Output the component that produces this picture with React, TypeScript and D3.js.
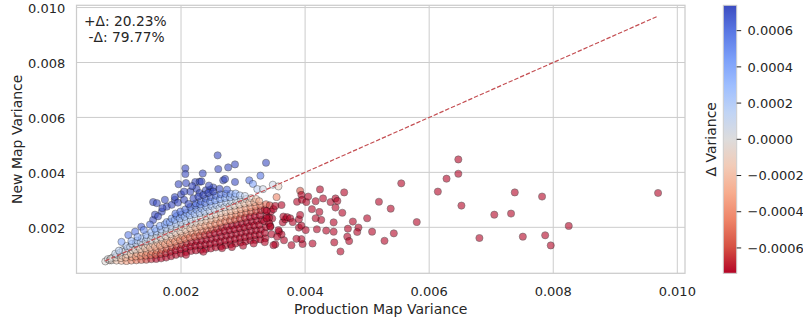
import React from 'react';
import * as d3 from 'd3';

const WIDTH = 803;
const HEIGHT = 322;

// Axis ticks
const xTicks = [0.002, 0.004, 0.006, 0.008, 0.01];
const yTicks = [0.002, 0.004, 0.006, 0.008, 0.01];
const colorTicks = [-0.0006, -0.0004, -0.0002, 0, 0.0002, 0.0004, 0.0006];

// Colour normalisation for Δ = new − production
const deltaLimit = 0.00074;
// coolwarm ramp, blue end first (positive Δ drawn blue)
const coolwarm = ['#3b4cc0', '#5a78e4', '#7b9ff9', '#9ebeff', '#c0d4f5', '#dddcdc', '#f2cbb7', '#f7ac8e', '#ee8468', '#d65244', '#b40426'];

// Share of maps whose variance went up / down
const positiveShare = '20.23%';
const negativeShare = '79.77%';

// [production variance, new variance] — dense band along the diagonal
const clusterPoints: [number, number][] = [
  [0.00078,0.00076],[0.00082,0.00084],[0.00085,0.00080],
  [0.00088,0.00080],[0.00090,0.00090],[0.00087,0.00086],
  [0.00096,0.00079],[0.00095,0.00090],[0.00097,0.00100],[0.00094,0.00104],
  [0.00104,0.00078],[0.00103,0.00088],[0.00105,0.00097],[0.00102,0.00108],[0.00106,0.00117],
  [0.00112,0.00077],[0.00111,0.00090],[0.00113,0.00101],[0.00110,0.00113],[0.00114,0.00124],[0.00112,0.00132],
  [0.00120,0.00079],[0.00121,0.00092],[0.00119,0.00104],[0.00122,0.00116],[0.00118,0.00128],[0.00121,0.00140],
  [0.00128,0.00080],[0.00127,0.00094],[0.00129,0.00106],[0.00126,0.00119],[0.00130,0.00131],[0.00127,0.00143],[0.00129,0.00152],
  [0.00136,0.00081],[0.00135,0.00096],[0.00137,0.00108],[0.00134,0.00121],[0.00138,0.00134],[0.00135,0.00146],[0.00137,0.00160],
  [0.00144,0.00082],[0.00143,0.00097],[0.00145,0.00110],[0.00142,0.00124],[0.00146,0.00137],[0.00143,0.00150],[0.00145,0.00162],[0.00144,0.00172],
  [0.00152,0.00084],[0.00151,0.00099],[0.00153,0.00112],[0.00150,0.00126],[0.00154,0.00140],[0.00151,0.00154],[0.00153,0.00168],[0.00152,0.00182],
  [0.00160,0.00085],[0.00159,0.00100],[0.00161,0.00115],[0.00158,0.00129],[0.00162,0.00144],[0.00159,0.00158],[0.00161,0.00172],[0.00160,0.00186],[0.00158,0.00195],
  [0.00168,0.00087],[0.00167,0.00103],[0.00169,0.00118],[0.00166,0.00133],[0.00170,0.00148],[0.00167,0.00163],[0.00169,0.00178],[0.00168,0.00192],[0.00166,0.00205],
  [0.00176,0.00090],[0.00175,0.00106],[0.00177,0.00122],[0.00174,0.00138],[0.00178,0.00153],[0.00175,0.00168],[0.00177,0.00183],[0.00176,0.00198],[0.00174,0.00211],[0.00177,0.00219],
  [0.00184,0.00095],[0.00183,0.00111],[0.00185,0.00127],[0.00182,0.00143],[0.00186,0.00159],[0.00183,0.00175],[0.00185,0.00190],[0.00184,0.00205],[0.00182,0.00219],[0.00185,0.00232],
  [0.00192,0.00100],[0.00191,0.00116],[0.00193,0.00132],[0.00190,0.00148],[0.00194,0.00164],[0.00191,0.00180],[0.00193,0.00196],[0.00192,0.00212],[0.00190,0.00227],[0.00193,0.00241],[0.00191,0.00250],
  [0.00200,0.00104],[0.00199,0.00120],[0.00201,0.00137],[0.00198,0.00153],[0.00202,0.00169],[0.00199,0.00185],[0.00201,0.00201],[0.00200,0.00217],[0.00198,0.00232],[0.00201,0.00246],[0.00199,0.00257],
  [0.00208,0.00110],[0.00207,0.00126],[0.00209,0.00142],[0.00206,0.00158],[0.00210,0.00175],[0.00207,0.00191],[0.00209,0.00207],[0.00208,0.00223],[0.00206,0.00238],[0.00209,0.00252],[0.00207,0.00265],
  [0.00216,0.00114],[0.00215,0.00130],[0.00217,0.00146],[0.00214,0.00163],[0.00218,0.00180],[0.00215,0.00196],[0.00217,0.00212],[0.00216,0.00228],[0.00214,0.00244],[0.00217,0.00259],[0.00215,0.00274],
  [0.00224,0.00116],[0.00223,0.00133],[0.00225,0.00150],[0.00222,0.00166],[0.00226,0.00183],[0.00223,0.00199],[0.00225,0.00216],[0.00224,0.00232],[0.00222,0.00248],[0.00225,0.00264],[0.00223,0.00279],[0.00224,0.00287],
  [0.00232,0.00118],[0.00231,0.00135],[0.00233,0.00152],[0.00230,0.00169],[0.00234,0.00186],[0.00231,0.00203],[0.00233,0.00219],[0.00232,0.00236],[0.00230,0.00252],[0.00233,0.00268],[0.00231,0.00283],[0.00232,0.00295],
  [0.00240,0.00121],[0.00239,0.00138],[0.00241,0.00155],[0.00238,0.00172],[0.00242,0.00189],[0.00239,0.00206],[0.00241,0.00223],[0.00240,0.00240],[0.00238,0.00257],[0.00241,0.00273],[0.00239,0.00289],[0.00240,0.00304],
  [0.00248,0.00123],[0.00247,0.00140],[0.00249,0.00158],[0.00246,0.00175],[0.00250,0.00192],[0.00247,0.00209],[0.00249,0.00226],[0.00248,0.00243],[0.00246,0.00260],[0.00249,0.00277],[0.00247,0.00294],[0.00248,0.00310],
  [0.00256,0.00127],[0.00255,0.00144],[0.00257,0.00161],[0.00254,0.00179],[0.00258,0.00196],[0.00255,0.00213],[0.00257,0.00230],[0.00256,0.00247],[0.00254,0.00264],[0.00257,0.00281],[0.00255,0.00298],[0.00256,0.00315],
  [0.00264,0.00131],[0.00263,0.00148],[0.00265,0.00166],[0.00262,0.00183],[0.00266,0.00200],[0.00263,0.00217],[0.00265,0.00235],[0.00264,0.00252],[0.00262,0.00269],[0.00265,0.00286],[0.00263,0.00303],[0.00264,0.00320],
  [0.00272,0.00135],[0.00271,0.00152],[0.00273,0.00170],[0.00270,0.00187],[0.00274,0.00204],[0.00271,0.00222],[0.00273,0.00239],[0.00272,0.00256],[0.00270,0.00273],[0.00273,0.00290],[0.00271,0.00307],[0.00272,0.00322],
  [0.00280,0.00138],[0.00279,0.00155],[0.00281,0.00173],[0.00278,0.00190],[0.00282,0.00207],[0.00279,0.00225],[0.00281,0.00242],[0.00280,0.00259],[0.00278,0.00276],[0.00281,0.00293],[0.00279,0.00309],[0.00280,0.00322],
  [0.00288,0.00141],[0.00287,0.00158],[0.00289,0.00176],[0.00286,0.00193],[0.00290,0.00211],[0.00287,0.00228],[0.00289,0.00245],[0.00288,0.00262],[0.00286,0.00279],[0.00289,0.00296],[0.00287,0.00312],[0.00288,0.00323],
  [0.00296,0.00145],[0.00295,0.00162],[0.00297,0.00180],[0.00294,0.00197],[0.00298,0.00214],[0.00295,0.00232],[0.00297,0.00249],[0.00296,0.00266],[0.00294,0.00283],[0.00297,0.00300],[0.00295,0.00316],
  [0.00304,0.00148],[0.00303,0.00165],[0.00305,0.00183],[0.00302,0.00200],[0.00306,0.00218],[0.00303,0.00235],[0.00305,0.00252],[0.00304,0.00270],[0.00302,0.00287],[0.00305,0.00303],[0.00303,0.00314],
  [0.00312,0.00152],[0.00311,0.00169],[0.00313,0.00187],[0.00310,0.00204],[0.00314,0.00221],[0.00311,0.00238],[0.00313,0.00256],[0.00312,0.00273],[0.00310,0.00290],[0.00313,0.00306],
  [0.00320,0.00154],[0.00319,0.00172],[0.00321,0.00189],[0.00318,0.00207],[0.00322,0.00224],[0.00319,0.00241],[0.00321,0.00259],[0.00320,0.00276],[0.00318,0.00292],[0.00321,0.00303],
  [0.00328,0.00156],[0.00327,0.00174],[0.00329,0.00192],[0.00326,0.00209],[0.00330,0.00227],[0.00327,0.00244],[0.00329,0.00262],[0.00328,0.00279],[0.00326,0.00295],
  [0.00336,0.00160],[0.00335,0.00180],[0.00337,0.00201],[0.00334,0.00222],[0.00338,0.00243],[0.00335,0.00264],[0.00337,0.00284],
  [0.00346,0.00175],[0.00344,0.00205],[0.00347,0.00232],[0.00345,0.00258],[0.00343,0.00280],
];

// Maps whose variance rose above the band
const upperPoints: [number, number][] = [
  [0.00104,0.00147],[0.00115,0.00172],[0.00126,0.00184],[0.00136,0.00202],[0.00155,0.00227],[0.00158,0.00246],
  [0.00169,0.00257],[0.00177,0.00275],[0.00185,0.00282],[0.00155,0.00292],[0.00161,0.00288],[0.00174,0.00300],
  [0.00190,0.00300],[0.00196,0.00357],[0.00208,0.00361],[0.00223,0.00365],[0.00230,0.00366],[0.00233,0.00367],
  [0.00247,0.00337],[0.00268,0.00371],[0.00271,0.00376],[0.00274,0.00337],[0.00287,0.00365],[0.00310,0.00371],
  [0.00316,0.00358],[0.00207,0.00415],[0.00207,0.00394],[0.00235,0.00396],[0.00259,0.00462],[0.00260,0.00412],
  [0.00276,0.00418],[0.00287,0.00429],[0.00337,0.00435],[0.00328,0.00388],[0.00323,0.00339],[0.00332,0.00339],
  [0.00348,0.00355],[0.00357,0.00349],[0.00200,0.00320],[0.00215,0.00330],[0.00225,0.00340],[0.00240,0.00335],
  [0.00252,0.00345],[0.00262,0.00340],[0.00218,0.00350],[0.00245,0.00352],[0.00205,0.00330],[0.00230,0.00325],
  [0.00190,0.00310],[0.00170,0.00270],[0.00163,0.00240],[0.00150,0.00210],[0.00140,0.00190],[0.00130,0.00165],
  [0.00120,0.00150],[0.00100,0.00115],[0.00195,0.00290],[0.00205,0.00300],[0.00212,0.00285],[0.00220,0.00305],
  [0.00228,0.00312],[0.00236,0.00318],[0.00244,0.00325],[0.00252,0.00330],
];

// Maps whose variance fell: the red body right of the band
const lowerPoints: [number, number][] = [
  [0.00354,0.00310],[0.00338,0.00260],[0.00349,0.00266],[0.00352,0.00278],[0.00362,0.00281],[0.00342,0.00235],
  [0.00342,0.00215],[0.00364,0.00218],[0.00368,0.00229],[0.00365,0.00239],[0.00371,0.00237],[0.00358,0.00184],
  [0.00362,0.00174],[0.00366,0.00153],[0.00352,0.00138],[0.00335,0.00146],[0.00344,0.00202],[0.00355,0.00166],
  [0.00357,0.00190],[0.00349,0.00135],[0.00338,0.00233],[0.00376,0.00233],[0.00380,0.00219],[0.00390,0.00229],
  [0.00390,0.00199],[0.00394,0.00206],[0.00387,0.00293],[0.00392,0.00333],[0.00394,0.00318],[0.00395,0.00300],
  [0.00402,0.00292],[0.00405,0.00312],[0.00417,0.00295],[0.00424,0.00338],[0.00429,0.00305],[0.00441,0.00292],
  [0.00449,0.00305],[0.00452,0.00296],[0.00463,0.00327],[0.00449,0.00272],[0.00460,0.00253],[0.00411,0.00266],
  [0.00423,0.00256],[0.00426,0.00227],[0.00446,0.00218],[0.00477,0.00221],[0.00469,0.00195],[0.00486,0.00199],
  [0.00484,0.00183],[0.00434,0.00188],[0.00419,0.00193],[0.00401,0.00190],[0.00468,0.00166],[0.00471,0.00150],
  [0.00447,0.00145],[0.00457,0.00112],[0.00412,0.00141],[0.00396,0.00139],[0.00394,0.00157],[0.00386,0.00158],
  [0.00378,0.00135],[0.00392,0.00245],[0.00417,0.00233],[0.00446,0.00184],
  [0.00500,0.00233],[0.00508,0.00184],[0.00519,0.00293],[0.00538,0.00268],[0.00555,0.00360],[0.00580,0.00219],
  [0.00543,0.00178],[0.00528,0.00151],
  [0.00208,0.00100],[0.00236,0.00111],[0.00282,0.00128],[0.00317,0.00141],[0.00300,0.00133],[0.00266,0.00124],
];

// Isolated maps with large production variance
const tailPoints: [number, number][] = [
  [0.00647,0.00447],[0.00647,0.00395],[0.00628,0.00377],[0.00614,0.00330],[0.00652,0.00279],
  [0.00681,0.00161],[0.00705,0.00246],[0.00732,0.00250],[0.00738,0.00327],[0.00782,0.00312],
  [0.00751,0.00166],[0.00787,0.00171],[0.00796,0.00134],[0.00825,0.00205],[0.00969,0.00325],
];

const FONT = 'DejaVu Sans, sans-serif';
const TEXT = '#262626';
const GRID = '#cccccc';

export default function App() {
  const plot = { left: 76.5, right: 685, top: 5.3, bottom: 273.3 };
  const bar = { left: 723.3, right: 736.7, top: 5.3, bottom: 273.3 };

  const x = d3.scaleLinear().domain([0.000315, 0.010124]).range([plot.left, plot.right]);
  const y = d3.scaleLinear().domain([0.000326, 0.010082]).range([plot.bottom, plot.top]);
  const cy = d3.scaleLinear().domain([-deltaLimit, deltaLimit]).range([bar.bottom, bar.top]);

  const ramp = d3.piecewise(d3.interpolateRgb, coolwarm);
  const colorOf = (delta: number) =>
    ramp(Math.max(0, Math.min(1, (deltaLimit - delta) / (2 * deltaLimit))));

  const points = [...clusterPoints, ...upperPoints, ...lowerPoints, ...tailPoints];
  const prodExtent = d3.extent(points, (d) => d[0]) as [number, number];

  const fmtAxis = d3.format('.3f');
  const fmtBar = d3.format('.4f');

  return (
    <svg
      width={WIDTH}
      height={HEIGHT}
      style={{ position: 'absolute', left: 0, top: 0, background: '#fff' }}
      fontFamily={FONT}
    >
      <defs>
        <linearGradient id="cbar" x1="0" y1="0" x2="0" y2="1">
          {coolwarm.map((c, i) => (
            <stop key={i} offset={i / (coolwarm.length - 1)} stopColor={c} />
          ))}
        </linearGradient>
        <clipPath id="plotClip">
          <rect x={plot.left} y={plot.top} width={plot.right - plot.left} height={plot.bottom - plot.top} />
        </clipPath>
      </defs>

      {/* grid */}
      {xTicks.map((t) => (
        <line key={'gx' + t} x1={x(t)} x2={x(t)} y1={plot.top} y2={plot.bottom} stroke={GRID} strokeWidth={1} />
      ))}
      {yTicks.map((t) => (
        <line key={'gy' + t} x1={plot.left} x2={plot.right} y1={y(t)} y2={y(t)} stroke={GRID} strokeWidth={1} />
      ))}

      {/* points */}
      <g clipPath="url(#plotClip)">
        {points.map((d, i) => (
          <circle
            key={i}
            cx={x(d[0])}
            cy={y(d[1])}
            r={3.6}
            fill={colorOf(d[1] - d[0])}
            stroke="#000"
            strokeWidth={0.55}
            opacity={0.6}
          />
        ))}
        <line
          x1={x(prodExtent[0])}
          y1={y(prodExtent[0])}
          x2={x(prodExtent[1])}
          y2={y(prodExtent[1])}
          stroke="#c44e52"
          strokeWidth={1.2}
          strokeDasharray="4.4,1.9"
        />
      </g>

      {/* spines */}
      <rect
        x={plot.left}
        y={plot.top}
        width={plot.right - plot.left}
        height={plot.bottom - plot.top}
        fill="none"
        stroke={GRID}
        strokeWidth={1.25}
      />

      {/* tick labels */}
      {xTicks.map((t) => (
        <text key={'tx' + t} x={x(t)} y={295.5} fontSize={13} fill={TEXT} textAnchor="middle">
          {fmtAxis(t)}
        </text>
      ))}
      {yTicks.map((t) => (
        <text key={'ty' + t} x={65.3} y={y(t) + 5.3} fontSize={13} fill={TEXT} textAnchor="end">
          {fmtAxis(t)}
        </text>
      ))}

      {/* axis labels */}
      <text x={(plot.left + plot.right) / 2} y={314} fontSize={14} fill={TEXT} textAnchor="middle">
        Production Map Variance
      </text>
      <text
        transform={`translate(22,${(plot.top + plot.bottom) / 2}) rotate(-90)`}
        fontSize={14}
        fill={TEXT}
        textAnchor="middle"
      >
        New Map Variance
      </text>

      {/* share annotation */}
      <text x={84} y={25.8} fontSize={13.8} fill={TEXT}>
        {`+Δ: ${positiveShare}`}
      </text>
      <text x={88.5} y={42} fontSize={13.8} fill={TEXT}>
        {`-Δ: ${negativeShare}`}
      </text>

      {/* colour bar */}
      <rect
        x={bar.left}
        y={bar.top}
        width={bar.right - bar.left}
        height={bar.bottom - bar.top}
        fill="url(#cbar)"
        stroke={GRID}
        strokeWidth={1}
      />
      {colorTicks.map((t) => (
        <g key={'ct' + t}>
          <line x1={bar.right} x2={bar.right + 4.5} y1={cy(t)} y2={cy(t)} stroke={TEXT} strokeWidth={1} />
          <text x={747.5} y={cy(t) + 4.7} fontSize={13} fill={TEXT}>
            {fmtBar(t)}
          </text>
        </g>
      ))}
      <text
        transform={`translate(715.5,${(bar.top + bar.bottom) / 2}) rotate(-90)`}
        fontSize={14}
        fill={TEXT}
        textAnchor="middle"
      >
        Δ Variance
      </text>
    </svg>
  );
}
